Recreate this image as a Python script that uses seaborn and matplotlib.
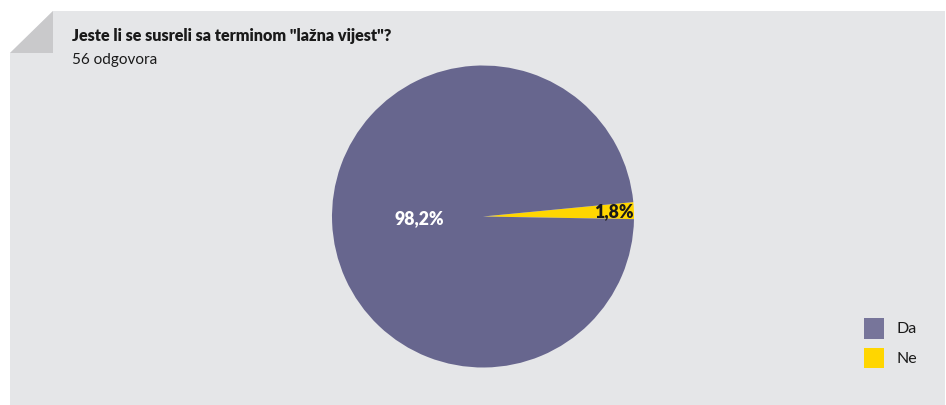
import numpy as np
import matplotlib
matplotlib.use("Agg")
import matplotlib.pyplot as plt
from matplotlib.patches import Polygon, Patch
import seaborn as sns

sns.set_style("white")
plt.rcParams['font.family'] = ['Lato', 'DejaVu Sans']

title = 'Jeste li se susreli sa terminom "lažna vijest"?'
subtitle = '56 odgovora'
categories = ['Da', 'Ne']
values = [98.2, 1.8]
pct_labels = ['98,2%', '1,8%']
colors = ['#67668E', '#FFD600']
legend_colors = ['#77759A', '#FFD600']
label_colors = ['white', '#1a1a1a']
label_radius = [0.42, 0.87]

W, H = 946, 405
fig = plt.figure(figsize=(W / 100, H / 100), dpi=100)
fig.patch.set_facecolor('white')

def fx(x):
    return x / W

def fy(y):
    return 1 - y / H

# panel background with folded corner
panel = Polygon([(fx(10), fy(53)), (fx(53), fy(11)), (fx(945), fy(11)),
                 (fx(945), fy(405)), (fx(10), fy(405))],
                closed=True, transform=fig.transFigure, facecolor='#E5E6E8',
                edgecolor='none', zorder=0)
fig.add_artist(panel)
corner = Polygon([(fx(10), fy(53)), (fx(53), fy(11)), (fx(53), fy(53))],
                 closed=True, transform=fig.transFigure, facecolor='#C9C9CB',
                 edgecolor='none', zorder=1)
fig.add_artist(corner)

fig.text(fx(72), fy(36), title, fontsize=11.6, fontweight='heavy', color='#1a1a1a',
         va='center', ha='left')
fig.text(fx(72), fy(60), subtitle, fontsize=11, color='#1a1a1a', va='center', ha='left')

# pie axes
cx, cy, r = 483, 216.5, 151
ax = fig.add_axes([fx(cx - r), fy(cy + r), 2 * r / W, 2 * r / H])
ax.set_facecolor('none')
order = [1, 0]  # draw Ne first so it sits just above 3 o'clock
wedges, _ = ax.pie([values[i] for i in order], colors=[colors[i] for i in order],
                   startangle=-1.0, counterclock=True, radius=1,
                   wedgeprops=dict(linewidth=0))
ax.set_xlim(-1, 1)
ax.set_ylim(-1, 1)
ax.set_aspect('equal')
ax.axis('off')

for w, i in zip(wedges, order):
    mid = np.deg2rad((w.theta1 + w.theta2) / 2)
    rr = label_radius[i]
    ax.text(rr * np.cos(mid), rr * np.sin(mid), pct_labels[i], color=label_colors[i],
            fontsize=12.7, fontweight='heavy', ha='center', va='center')

handles = [Patch(facecolor=legend_colors[i], edgecolor='none') for i in range(len(categories))]
fig.legend(handles, categories, loc='upper left', bbox_to_anchor=(fx(864), fy(318)),
           frameon=False, fontsize=11.5, handlelength=1.25, handleheight=1.6,
           handletextpad=0.8, labelspacing=0.58, borderpad=0, borderaxespad=0,
           labelcolor='#1a1a1a')

fig.savefig('out.png', dpi=100, facecolor='white')
